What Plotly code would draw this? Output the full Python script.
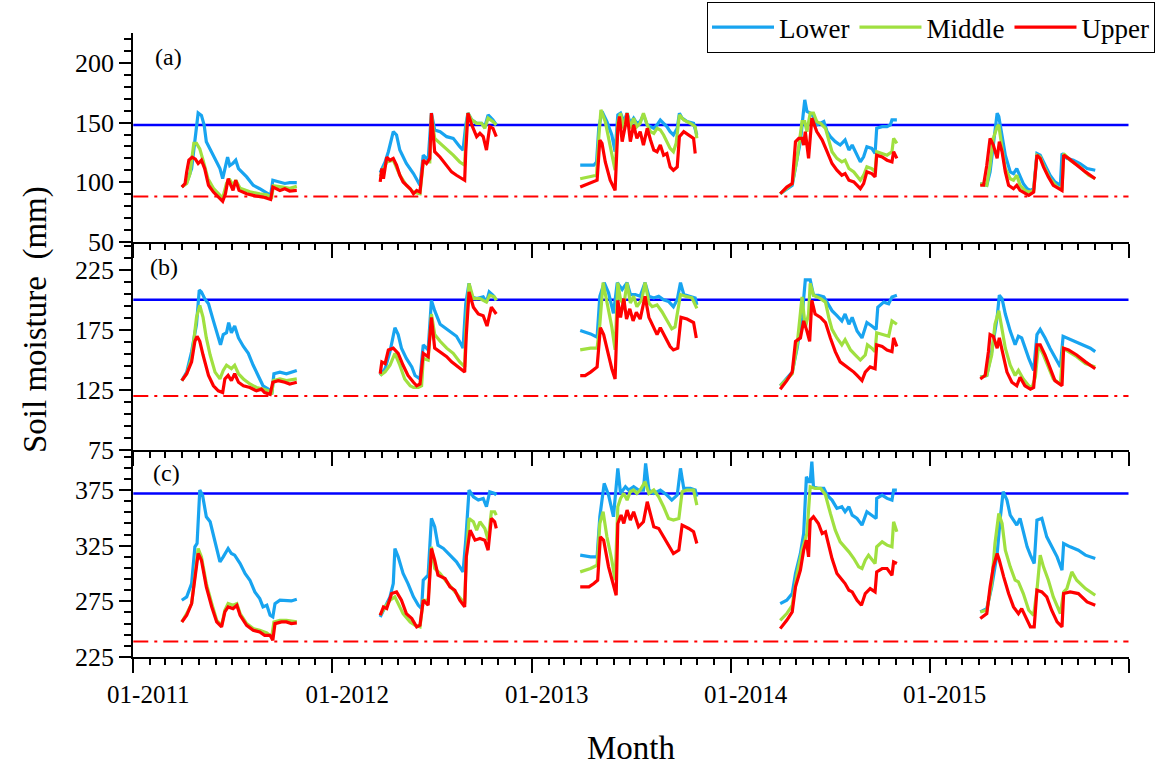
import pandas as pd
import plotly.graph_objects as go

# ---------------------------------------------------------------------------
# Soil moisture (mm) of three slope positions, growing seasons 2011-2015.
# Each entry: year -> (day offsets from 1 January, soil moisture values).
# Panels: (a) shallow layer, (b) middle layer, (c) deep layer.
# ---------------------------------------------------------------------------

lower_a = {
    2011: ([89, 98, 107, 113, 119, 125, 130, 134, 147, 159, 164, 168, 173, 177, 183, 188, 193, 208, 220, 232, 238, 245, 252, 256, 269, 278, 287, 300],
           [96, 99.7, 111.5, 137, 158, 156, 148, 134, 123, 111.5, 103, 111.5, 121, 114, 116, 118.5, 111.5, 104.5, 97.5, 94.6, 93, 90.4, 89, 101.7, 99.7, 99, 99.7, 99.7]),
    2012: ([88, 97, 103, 112, 118, 124, 136, 149, 161, 167, 176, 182, 188, 198, 210, 222, 234, 240, 245, 249, 256, 265, 274, 280, 286, 295, 301],
           [108, 117, 125.6, 142.4, 139.6, 127, 115.7, 107.3, 97.5, 122.7, 118.5, 157.9, 143.8, 142.4, 138.2, 136.8, 129.8, 127, 148, 157.9, 152.2, 149.4, 149.4, 146.6, 156.5, 152.2, 148]),
    2013: ([89, 114, 119, 123, 129, 138, 147, 153, 158, 163, 169, 175, 181, 187, 193, 199, 205, 212, 218, 224, 230, 236, 242, 248, 254, 260, 267, 271, 276, 285, 297, 303],
           [114.3, 114.3, 117, 145.2, 159.3, 150.8, 139.6, 125.6, 156.5, 157.9, 150.8, 157.9, 149.4, 153.7, 149.4, 150.8, 156.5, 148, 146.6, 145.2, 148, 152.2, 149.4, 146.6, 142.4, 139.6, 145.2, 157.9, 153.7, 150.8, 149.4, 139.6]),
    2014: ([91, 103, 113, 122, 128, 133, 136, 140, 146, 152, 158, 165, 171, 177, 183, 192, 201, 210, 217, 223, 232, 238, 244, 250, 259, 265, 268, 278, 287, 293, 296, 305],
           [90.4, 94.6, 97.5, 120, 134, 156.5, 169, 159.3, 157.9, 155, 148, 149.4, 150.8, 142.4, 138.2, 134, 131.2, 135.4, 127, 131.2, 122.7, 117.1, 121.3, 129.8, 128.4, 124.1, 145.2, 146.6, 146.6, 148, 152.2, 152.2]),
    2015: ([93, 105, 111, 117, 124, 127, 133, 139, 148, 154, 160, 166, 172, 179, 185, 191, 194, 197, 203, 209, 215, 221, 230, 240, 243, 252, 264, 276, 289, 304],
           [98.9, 97.5, 108.7, 134, 157.9, 155, 139.6, 122.7, 108.7, 107.3, 111.5, 104.5, 98.9, 94.6, 93.2, 94.6, 108.7, 124.1, 122.7, 117.1, 111.5, 105.9, 100.3, 97.5, 124.1, 120, 118.5, 115.7, 111.5, 110.1]),
}

middle_a = {
    2011: ([89, 98, 104, 111, 116, 122, 128, 137, 147, 159, 164, 171, 176, 183, 188, 196, 214, 232, 245, 254, 257, 275, 287, 300],
           [96, 99, 107, 132.6, 132.6, 128, 118.5, 103, 95, 89, 86.8, 99, 103, 97.5, 101.7, 95, 92, 90.4, 89.6, 87.6, 97, 96, 95, 96.6]),
    2012: ([88, 100, 112, 124, 136, 149, 161, 167, 179, 182, 188, 198, 210, 222, 234, 243, 246, 249, 256, 265, 274, 280, 286, 295, 301],
           [105, 117, 118.5, 106, 97.5, 91.8, 90.4, 117, 117, 156.5, 136.8, 132.6, 128.4, 122.7, 117, 114.3, 145.2, 157.9, 152.2, 149.4, 149.4, 145.2, 153.7, 150.8, 148]),
    2013: ([89, 108, 119, 123, 127, 135, 144, 153, 158, 163, 169, 175, 181, 187, 193, 199, 205, 212, 218, 224, 230, 236, 242, 248, 254, 260, 265, 271, 279, 291, 300, 303],
           [103, 104.5, 105.9, 136.8, 160.7, 150.8, 131.2, 110.1, 150.8, 157.9, 145.2, 157.9, 145.2, 153.7, 146.6, 149.4, 157.9, 148, 142.4, 141, 145.2, 143.8, 139.6, 134, 128.4, 125.6, 132.6, 156.5, 152.2, 149.4, 146.6, 136.8]),
    2014: ([91, 103, 113, 122, 131, 136, 140, 146, 152, 158, 165, 174, 180, 186, 195, 204, 210, 217, 226, 238, 244, 250, 259, 265, 268, 278, 287, 296, 299, 305],
           [90.4, 94.6, 98.9, 120, 150.8, 150.8, 142.4, 157.9, 157.9, 150.8, 149.4, 145.2, 134, 125.6, 120, 117.1, 118.5, 111.5, 108.7, 101.7, 105.9, 112.9, 111.5, 108.7, 125.6, 124.1, 122.7, 125.6, 136.8, 132.6]),
    2015: ([93, 105, 111, 117, 124, 127, 133, 139, 148, 154, 160, 166, 175, 182, 191, 197, 203, 209, 221, 234, 243, 246, 258, 276, 292, 304],
           [98.9, 97.5, 114.3, 136.8, 146.6, 148, 128.4, 111.5, 103, 101.7, 105.9, 97.5, 93.2, 91.8, 93.2, 122.7, 121.3, 114.3, 103, 96, 94.6, 124.1, 118.5, 112.9, 105.9, 103]),
}

upper_a = {
    2011: ([89, 95, 98, 102, 108, 114, 119, 125, 131, 138, 147, 159, 164, 169, 174, 179, 183, 188, 194, 208, 220, 238, 252, 256, 269, 278, 287, 300],
           [96, 99, 108.7, 118.5, 121, 119.4, 115.7, 118.5, 111.5, 97.5, 91.8, 86.2, 84, 90.4, 103, 97.5, 93.2, 101.7, 93.2, 90.4, 89, 87.6, 85.6, 96, 93.2, 94.6, 92.7, 93.2]),
    2012: ([88, 91, 94, 97, 100, 106, 112, 118, 124, 130, 143, 149, 155, 161, 167, 173, 179, 182, 188, 198, 210, 219, 228, 237, 243, 245, 249, 256, 265, 271, 277, 283, 289, 295, 301],
           [100.3, 111.5, 103, 112, 121, 118.5, 120, 114.3, 105.9, 100.3, 94.6, 90.4, 93.2, 91.8, 118.5, 115.7, 120, 157.9, 125.6, 121, 114.3, 108.7, 105.9, 103, 101.7, 125.6, 157.9, 148, 138.2, 141, 138.2, 127, 146.6, 145.2, 138.2]),
    2013: ([89, 98, 114, 120, 125, 129, 135, 144, 153, 158, 161, 166, 172, 175, 181, 187, 193, 199, 205, 212, 218, 224, 230, 236, 242, 248, 254, 260, 267, 271, 279, 291, 297, 300],
           [96, 97.5, 100.3, 101.7, 135.4, 132.6, 117, 101.7, 93.2, 145.2, 155.1, 134, 148, 157.9, 134, 148, 136.8, 142.4, 131.2, 145.2, 135.4, 127, 125.6, 131.2, 122.7, 124.1, 112.9, 110.1, 112.9, 138.2, 142.4, 138.2, 136.8, 124.1]),
    2014: ([91, 103, 113, 119, 125, 131, 134, 137, 143, 149, 158, 168, 177, 186, 195, 204, 210, 217, 226, 238, 244, 250, 259, 265, 268, 278, 287, 296, 299, 305],
           [90.4, 96, 98.9, 134, 136.8, 136.8, 131.2, 142.4, 120, 153.7, 142.4, 135.4, 125.6, 115.7, 110.1, 105.9, 107.3, 101.7, 100.3, 94.6, 98.9, 108.7, 107.3, 104.5, 122.7, 121.3, 118.5, 117.1, 125.6, 120]),
    2015: ([93, 99, 105, 111, 117, 124, 128, 133, 139, 145, 154, 160, 166, 175, 182, 191, 197, 203, 209, 218, 227, 243, 246, 255, 270, 286, 304],
           [97.5, 97.5, 114.3, 136.8, 131.2, 120, 134, 125.6, 108.7, 97.5, 94.6, 97.5, 93.2, 90.4, 89, 91.8, 122.7, 120, 112.9, 104.5, 97.5, 93.2, 122.7, 120, 114.3, 108.7, 103]),
}

lower_b = {
    2011: ([89, 98, 107, 116, 121, 125, 131, 138, 147, 156, 160, 165, 171, 175, 180, 186, 193, 202, 211, 220, 229, 238, 248, 254, 258, 269, 281, 290, 300],
           [132.7, 139.8, 156.8, 179.6, 208, 206.5, 200.9, 196.6, 182.4, 168.2, 162.5, 171, 172.5, 181, 172.5, 178.1, 168.2, 161.1, 155.4, 145.5, 137, 128.4, 125.6, 121.3, 138.4, 139.8, 138.4, 139.8, 141.2]),
    2012: ([88, 97, 106, 115, 121, 127, 136, 146, 152, 161, 167, 176, 182, 188, 198, 207, 216, 228, 237, 240, 245, 251, 256, 265, 277, 283, 288, 295, 301],
           [137, 142.7, 156.8, 176.7, 171, 159.7, 151.2, 144.1, 137, 134.1, 162.5, 158.2, 199.4, 190.9, 179.6, 176.7, 173.9, 169.6, 162.5, 159.7, 196.6, 213.6, 202.3, 200.9, 202.3, 198, 206.5, 203.7, 199.4]),
    2013: ([89, 108, 120, 125, 133, 141, 150, 157, 166, 175, 181, 190, 199, 208, 215, 224, 233, 242, 251, 260, 267, 273, 279, 291, 300, 303],
           [174.4, 171.6, 168.8, 202.9, 214.2, 205.7, 188.7, 214.2, 208.5, 214.2, 204.3, 204.3, 202.9, 214.2, 202.9, 201.5, 202.9, 200, 198.6, 194.2, 200, 214.2, 204.3, 202.9, 201.5, 195.7]),
    2014: ([91, 103, 113, 122, 131, 137, 146, 152, 161, 171, 177, 186, 195, 204, 210, 217, 223, 232, 241, 250, 259, 267, 270, 281, 290, 296, 305],
           [128.4, 134.1, 139.8, 159.7, 185.3, 216.5, 216.5, 203.7, 203.7, 202.3, 198, 190.9, 186.7, 182.4, 188.1, 179.6, 185.3, 174, 168.2, 181, 178.1, 175.3, 193.8, 198, 196.6, 202.3, 203.7]),
    2015: ([93, 105, 114, 124, 128, 133, 139, 148, 157, 163, 169, 175, 182, 191, 197, 203, 212, 221, 230, 240, 245, 252, 267, 282, 295, 304],
           [135.5, 137, 156.8, 185.3, 203.7, 200.9, 188.1, 173.9, 162.5, 169.6, 168.2, 159.7, 151.2, 141.2, 171, 175.3, 168.2, 159.7, 152.6, 144.1, 169.6, 168.2, 165.4, 162.5, 159.7, 156.8]),
}

middle_b = {
    2011: ([89, 98, 107, 116, 122, 128, 134, 141, 150, 159, 165, 171, 180, 186, 193, 202, 214, 226, 238, 248, 254, 257, 269, 281, 300],
           [132.7, 138.4, 151.2, 185.3, 195.2, 185.3, 168.2, 154, 139.8, 134.1, 141.2, 145.5, 142.7, 145.5, 138.4, 134.1, 129.9, 127, 125.6, 124.2, 121.3, 132.7, 134.1, 132.7, 134.1]),
    2012: ([88, 97, 106, 115, 124, 133, 143, 149, 158, 164, 167, 176, 182, 188, 198, 210, 222, 234, 243, 245, 251, 259, 271, 283, 289, 298, 301],
           [137, 140, 145.5, 155.4, 145.5, 134.1, 128.4, 127, 127, 128.4, 151.2, 149.8, 188.1, 171, 165.4, 159.7, 155.4, 148.3, 144.1, 173.9, 213.6, 200.9, 200.9, 198, 203.7, 202.3, 199.4]),
    2013: ([89, 108, 120, 125, 131, 138, 147, 153, 158, 163, 169, 175, 181, 187, 193, 202, 208, 215, 221, 230, 239, 248, 257, 263, 273, 282, 294, 303],
           [158.3, 159.7, 159.7, 179.6, 214.2, 197.2, 177.3, 158.3, 214.2, 200, 195.7, 214.2, 197.2, 202.9, 194.2, 200, 214.2, 197.2, 194.2, 195.7, 190, 182.9, 175.8, 177.3, 204.3, 202.9, 201.5, 192.8]),
    2014: ([91, 103, 113, 122, 131, 137, 143, 146, 152, 165, 174, 180, 186, 195, 204, 210, 220, 229, 238, 247, 251, 259, 265, 268, 281, 290, 296, 305],
           [128.4, 134.1, 138.4, 162.5, 202.3, 176.7, 188.1, 213.6, 203.7, 200.9, 198, 185.3, 175.3, 168.2, 162.5, 166.8, 158.2, 154, 149.8, 154, 162.5, 159.7, 156.8, 172.5, 171, 169.6, 182.4, 179.6]),
    2015: ([93, 105, 114, 120, 127, 133, 139, 148, 157, 163, 172, 182, 188, 194, 200, 209, 218, 227, 240, 245, 255, 270, 286, 304],
           [135.5, 137, 154, 179.6, 190.9, 173.9, 159.7, 145.5, 137, 141.2, 134.1, 128.4, 127, 135.5, 162.5, 154, 144.1, 134.1, 129.9, 159.7, 156.8, 152.6, 146.9, 144.1]),
}

upper_b = {
    2011: ([89, 98, 107, 113, 117, 122, 128, 138, 147, 156, 164, 168, 174, 180, 186, 193, 202, 214, 226, 235, 241, 251, 256, 266, 278, 287, 300],
           [132.7, 138.4, 148.3, 165.4, 169.6, 165.4, 154, 137, 128.4, 124.2, 122.8, 134.1, 137, 132.7, 138.4, 131.3, 128.4, 127, 124.2, 125.6, 122.8, 121.3, 131.3, 132.7, 131.3, 129.9, 131.3]),
    2012: ([88, 91, 97, 103, 112, 121, 130, 139, 149, 155, 161, 167, 176, 182, 188, 198, 210, 219, 231, 243, 246, 251, 259, 268, 277, 284, 292, 301],
           [138.4, 148.3, 146.9, 158.2, 159.7, 155.4, 145.5, 137, 131.3, 128.4, 129.9, 155.4, 152.6, 185.3, 159.7, 156.8, 152.6, 148.3, 144.1, 139.8, 171, 206.5, 193.8, 188.1, 186.7, 178.1, 193.8, 188.1]),
    2013: ([89, 98, 108, 120, 126, 132, 141, 147, 153, 158, 163, 169, 174, 180, 186, 192, 199, 208, 215, 223, 230, 236, 245, 254, 260, 268, 274, 285, 297, 302],
           [136.9, 136.9, 139.8, 144.1, 176.7, 171, 154, 142.6, 134.1, 199.4, 185.3, 200.9, 183.9, 192.4, 182.4, 189.5, 183.9, 202.9, 185.3, 178.1, 171, 176.7, 168.2, 161.1, 158.2, 159.7, 185.3, 183.9, 181, 168.2]),
    2014: ([91, 103, 113, 119, 128, 134, 140, 145, 149, 155, 165, 174, 183, 192, 201, 210, 217, 226, 232, 241, 247, 256, 265, 268, 278, 287, 296, 299, 305],
           [125.6, 132.7, 139.8, 165.4, 168.2, 182.4, 173.9, 165.4, 199.4, 188.1, 185.3, 181, 168.2, 156.8, 148.3, 145.5, 142.6, 139.8, 137, 132.7, 139.8, 144.1, 142.6, 162.5, 161.1, 158.2, 156.8, 168.2, 161.1]),
    2015: ([93, 102, 108, 111, 117, 124, 128, 135, 142, 151, 160, 166, 175, 185, 191, 197, 203, 212, 221, 230, 243, 246, 255, 270, 286, 304],
           [134.1, 137, 156.8, 171, 169.6, 159.7, 168.2, 154, 139.8, 131.3, 128.4, 135.5, 128.4, 125.6, 127, 162.5, 162.5, 154, 142.6, 132.7, 128.4, 159.7, 158.3, 154, 148.3, 142.6]),
}

lower_c = {
    2011: ([89, 98, 107, 113, 117, 122, 127, 134, 141, 150, 159, 165, 174, 180, 186, 196, 205, 214, 223, 232, 238, 245, 251, 256, 260, 269, 281, 290, 300],
           [276, 279, 291, 324, 327, 375, 370.5, 351, 346.5, 327, 310.5, 315, 322.5, 318, 316.5, 309, 300, 294, 283.5, 277.5, 270, 271.5, 262.5, 261, 273, 276, 276, 275.4, 276.9]),
    2012: ([88, 97, 106, 112, 115, 121, 130, 139, 149, 158, 164, 167, 176, 182, 188, 194, 204, 216, 228, 240, 245, 251, 259, 268, 277, 283, 289, 298, 301],
           [261, 270, 279, 291, 322.5, 315, 300, 291, 279, 271.5, 268.5, 294, 298.5, 349.5, 342, 325.5, 322.5, 316.5, 310.5, 301.5, 330, 375, 369, 366, 367.5, 360, 373.5, 372, 370.5]),
    2013: ([89, 108, 120, 125, 133, 141, 150, 158, 163, 172, 178, 187, 196, 205, 209, 215, 224, 236, 248, 257, 267, 273, 279, 291, 300, 303],
           [316.5, 315, 315, 351, 381, 370.5, 351, 394.5, 372, 378, 375, 378, 375, 375, 399, 375, 372, 375, 370.5, 366, 370.5, 394.5, 376.5, 376.5, 375, 369]),
    2014: ([91, 103, 113, 119, 128, 134, 139, 143, 146, 149, 152, 161, 171, 177, 186, 195, 204, 210, 217, 223, 232, 241, 250, 259, 267, 268, 278, 287, 296, 299, 305],
           [273, 276, 282, 300, 318, 336, 387, 382.5, 382.5, 400.5, 378, 376.5, 376.5, 370.5, 366, 358.5, 360, 355.5, 360, 352.5, 349.5, 343.5, 355.5, 352.5, 349.5, 367.5, 370.5, 367.5, 366, 375, 375]),
    2015: ([93, 105, 114, 124, 130, 135, 142, 148, 154, 160, 166, 172, 179, 185, 192, 197, 206, 215, 224, 234, 243, 246, 258, 273, 286, 304],
           [265.5, 268.5, 288, 318, 351, 373.5, 366, 352.5, 348, 343.5, 349.5, 337.5, 324, 316.5, 309, 348, 349.5, 333, 324, 315, 303, 327, 324, 321, 316.5, 313.5]),
}

middle_c = {
    2011: ([89, 98, 107, 113, 119, 125, 134, 144, 153, 162, 168, 174, 183, 190, 196, 208, 220, 232, 245, 254, 258, 269, 281, 300],
           [256.5, 264, 273, 297, 322.5, 315, 291, 273, 258, 253.5, 267, 273, 271.5, 273, 264, 255, 250.5, 249, 246.6, 243, 256.5, 258, 258, 256.5]),
    2012: ([88, 97, 106, 115, 121, 130, 143, 152, 161, 167, 176, 182, 188, 198, 210, 222, 234, 243, 246, 251, 259, 265, 271, 280, 286, 292, 298, 301],
           [262.5, 270, 276, 279, 273, 264, 256.5, 253.5, 252, 276, 276, 324, 304.5, 300, 292.5, 285, 277.5, 273, 315, 349.5, 346.5, 339, 346.5, 340.5, 330, 355.5, 355.5, 352.5]),
    2013: ([89, 108, 120, 125, 131, 138, 147, 153, 158, 163, 169, 175, 181, 187, 193, 199, 208, 215, 224, 233, 242, 251, 260, 270, 276, 285, 297, 303],
           [301.5, 304.5, 307.5, 345, 355.5, 333, 312, 294, 360, 367.5, 372, 366, 373.5, 375, 372, 375, 382.5, 372, 375, 369, 360, 349.5, 348, 349.5, 373.5, 375, 375, 361.5]),
    2014: ([91, 103, 113, 122, 131, 140, 146, 155, 165, 174, 183, 192, 201, 210, 217, 226, 235, 241, 247, 253, 265, 268, 278, 287, 296, 299, 305],
           [258, 264, 271.5, 300, 321, 336, 378, 376.5, 376.5, 370.5, 354, 339, 328.5, 324, 319.5, 313.5, 306, 304.5, 312, 316.5, 309, 324, 328.5, 325.5, 324, 346.5, 337.5]),
    2015: ([93, 105, 114, 120, 127, 133, 139, 148, 157, 163, 172, 182, 191, 197, 203, 209, 218, 227, 240, 246, 252, 261, 270, 286, 304],
           [265.5, 267, 291, 327, 354, 345, 321, 306, 294, 292.5, 282, 267, 262.5, 285, 316.5, 306, 294, 279, 264, 283.5, 286.5, 301.5, 294, 286.5, 280.5]),
}

upper_c = {
    2011: ([89, 98, 107, 113, 119, 125, 134, 144, 153, 162, 168, 174, 183, 190, 196, 208, 220, 232, 241, 251, 256, 260, 272, 281, 290, 300],
           [256.5, 262.5, 273, 294, 318, 312, 288, 270, 256.5, 252, 265.5, 270, 268.5, 271.5, 262.5, 253.5, 249, 247.5, 244.5, 244.5, 240, 255, 256.5, 256.5, 255, 255.6]),
    2012: ([88, 94, 100, 109, 118, 127, 136, 146, 155, 161, 167, 176, 182, 188, 194, 207, 216, 225, 234, 243, 246, 253, 262, 271, 280, 286, 292, 298, 301],
           [262.5, 270, 268.5, 282, 283.5, 276, 264, 259.5, 252, 253.5, 276, 271.5, 322.5, 312, 298.5, 295.5, 288, 285, 276, 270, 315, 339, 330, 331.5, 330, 321, 349.5, 346.5, 340.5]),
    2013: ([89, 105, 114, 121, 126, 132, 141, 150, 155, 158, 164, 169, 175, 181, 187, 196, 205, 212, 218, 224, 233, 242, 251, 260, 270, 276, 288, 297, 303],
           [288, 288, 291, 294, 333, 330, 306, 288, 280.5, 345, 352.5, 345, 357, 348, 355.5, 342, 346.5, 364.5, 354, 342, 340.5, 333, 325.5, 318, 321, 343.5, 340.5, 337.5, 327]),
    2014: ([91, 103, 113, 119, 128, 134, 139, 143, 146, 152, 161, 168, 174, 180, 186, 195, 204, 210, 217, 223, 232, 240, 247, 256, 265, 268, 278, 287, 296, 299, 305],
           [250.5, 258, 265.5, 288, 303, 321, 330, 315, 348, 351, 345, 336, 337.5, 324, 313.5, 300, 294, 291, 285, 283.5, 276, 271.5, 282, 286.5, 283.5, 301.5, 304.5, 304.5, 298.5, 310.5, 309]),
    2015: ([93, 105, 111, 117, 124, 128, 136, 145, 154, 163, 169, 179, 185, 192, 197, 206, 215, 224, 234, 243, 246, 258, 273, 289, 304],
           [259.5, 264, 288, 306, 318, 312, 297, 282, 270, 264, 268.5, 258, 252, 252, 285, 283.5, 279, 267, 256.5, 252, 282, 283.5, 282, 274.5, 271.5]),
}

# Reference levels per panel (a, b, c)
field_capacity = [148, 200, 372]
wilting_point = [88, 120, 239]

panel_labels = ["(a)", "(b)", "(c)"]
y_ranges = [[50, 225], [75, 248], [225, 411]]
y_tick0 = [50, 75, 225]
series_names = ["Lower", "Middle", "Upper"]

# ---------------------------------------------------------------------------
FONT = "Liberation Serif"
COLORS = {"Lower": "#18A4F0", "Middle": "#A0E040", "Upper": "#FF0000"}
W, H = 1159, 765


def to_xy(series):
    xs, ys = [], []
    for yr in sorted(series):
        days, vals = series[yr]
        assert len(days) == len(vals), (yr, len(days), len(vals))
        base = pd.Timestamp(f"{yr}-01-01")
        xs += [base + pd.Timedelta(days=int(d)) for d in days]
        ys += list(vals)
        xs.append(None)
        ys.append(None)
    return xs, ys


panels = [
    {"Lower": lower_a, "Middle": middle_a, "Upper": upper_a},
    {"Lower": lower_b, "Middle": middle_b, "Upper": upper_b},
    {"Lower": lower_c, "Middle": middle_c, "Upper": upper_c},
]

# vertical placement of the three stacked panels (pixels from top)
panel_px = [(33, 242), (242, 450), (450, 657)]
x_left, x_right = 133.3, 1128.5

fig = go.Figure()
layout = {}
for i, (panel, (top, bot)) in enumerate(zip(panels, panel_px)):
    n = "" if i == 0 else str(i + 1)
    xa, ya = "x" + n, "y" + n
    for name in series_names:
        xs, ys = to_xy(panel[name])
        fig.add_trace(go.Scatter(
            x=xs, y=ys, xaxis=xa, yaxis=ya, mode="lines", name=name,
            line=dict(color=COLORS[name], width=3.2),
            connectgaps=False, legendgroup=name, showlegend=(i == 0),
        ))

    layout["xaxis" + n] = dict(
        domain=[x_left / W, x_right / W], anchor=ya, automargin=False,
        type="date", range=["2011-01-01", "2016-01-01"],
        tick0="2011-01-01", dtick="M12", tickformat="%m-%Y",
        showticklabels=(i == 2), ticklabelshift=15,
        ticks="outside", ticklen=14, tickwidth=2, tickcolor="black",
        minor=dict(dtick="M1", ticks="outside", ticklen=6, tickwidth=2, tickcolor="black"),
        showline=True, linewidth=2, linecolor="black", mirror=False,
        showgrid=False, zeroline=False,
        tickfont=dict(family=FONT, size=25, color="black"),
        matches=None if i == 0 else "x",
    )
    layout["yaxis" + n] = dict(
        domain=[1 - bot / H, 1 - top / H], anchor=xa, automargin=False,
        range=y_ranges[i], tick0=y_tick0[i], dtick=50,
        ticks="outside", ticklen=12, tickwidth=2, tickcolor="black",
        minor=dict(dtick=10, tick0=y_tick0[i], ticks="outside", ticklen=7,
                   tickwidth=2, tickcolor="black"),
        showline=True, linewidth=2, linecolor="black",
        showgrid=False, zeroline=False,
        tickfont=dict(family=FONT, size=26, color="black"),
    )

    fig.add_shape(type="line", xref=xa + " domain", yref=ya,
                  x0=0, x1=1, y0=field_capacity[i], y1=field_capacity[i],
                  line=dict(color="#0000FF", width=2.5), layer="below")
    fig.add_shape(type="line", xref=xa + " domain", yref=ya,
                  x0=0, x1=1, y0=wilting_point[i], y1=wilting_point[i],
                  line=dict(color="#FF0000", width=2, dash="15px,6px,3px,6px"),
                  layer="below")

label_px = [(168, 57), (164, 267), (166, 473)]
for txt, (lx, ly) in zip(panel_labels, label_px):
    fig.add_annotation(x=lx / W, y=1 - ly / H, xref="paper", yref="paper",
                       xanchor="center", yanchor="middle",
                       text=txt, showarrow=False,
                       font=dict(family=FONT, size=24, color="black"))

fig.add_annotation(x=35 / W, y=1 - 320 / H, xref="paper", yref="paper",
                   xanchor="center", yanchor="middle",
                   text="Soil moisture  (mm)", textangle=-90, showarrow=False,
                   font=dict(family=FONT, size=33, color="black"))
fig.add_annotation(x=631 / W, y=1 - 748 / H, xref="paper", yref="paper",
                   xanchor="center", yanchor="middle",
                   text="Month", showarrow=False,
                   font=dict(family=FONT, size=33, color="black"))

fig.update_layout(
    width=W, height=H,
    margin=dict(l=0, r=0, t=0, b=0),
    paper_bgcolor="white", plot_bgcolor="white",
    font=dict(family=FONT, color="black"),
    showlegend=True,
    legend=dict(
        orientation="h", x=1155 / W, xanchor="right", y=1 - 2 / H, yanchor="top",
        bordercolor="black", borderwidth=1, bgcolor="white",
        font=dict(family=FONT, size=27, color="black"),
        itemwidth=62, tracegroupgap=0,
    ),
    **layout,
)

fig.write_html("out.html")
